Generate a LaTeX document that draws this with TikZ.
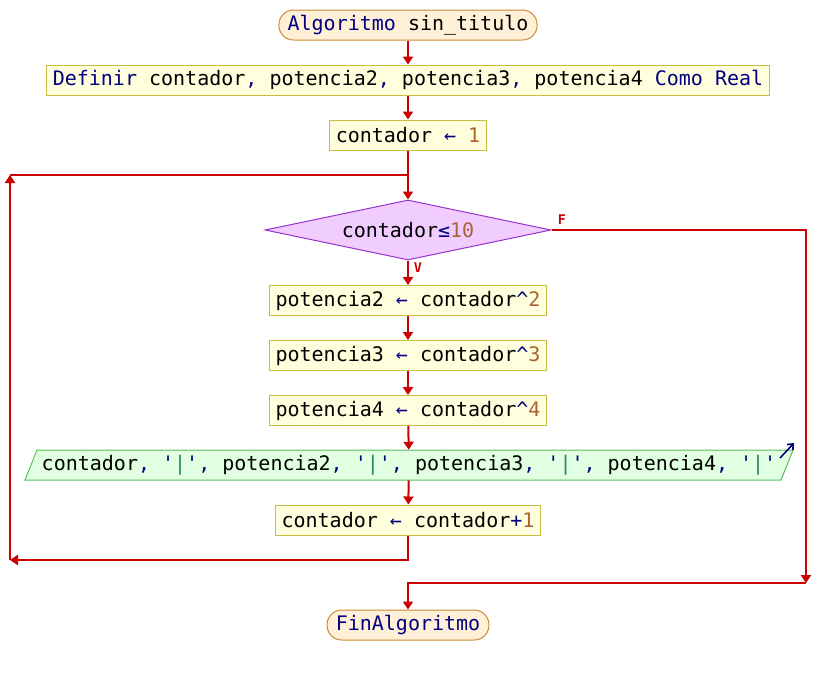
\documentclass[tikz,border=0pt]{standalone}
\usepackage{fontspec}
\newfontfamily\psfont{DejaVu Sans Mono}
\usetikzlibrary{shapes.geometric,arrows.meta}

\definecolor{flecha}{RGB}{204,0,0}
\definecolor{clave}{RGB}{0,0,128}
\definecolor{numero}{RGB}{170,100,50}
\definecolor{cadena}{RGB}{40,130,100}
\definecolor{fondoini}{RGB}{255,240,215}
\definecolor{bordeini}{RGB}{204,136,51}
\definecolor{fondoproc}{RGB}{255,255,221}
\definecolor{bordeproc}{RGB}{200,190,70}
\definecolor{fondodec}{RGB}{240,204,255}
\definecolor{bordedec}{RGB}{153,51,204}
\definecolor{fondosal}{RGB}{225,255,225}
\definecolor{bordesal}{RGB}{90,190,90}

\newcommand{\kw}[1]{\textcolor{clave}{#1}}
\newcommand{\cnum}[1]{\textcolor{numero}{#1}}
\newcommand{\cpipe}{\kw{'}\textcolor{cadena}{|}\kw{'}}

\tikzset{
  texto/.style={font=\psfont\fontsize{15}{18}\selectfont},
  flujo/.style={draw=flecha, line width=1.5pt, -{Triangle[length=6pt,width=7.5pt]}},
  linea/.style={draw=flecha, line width=1.5pt},
  extremo/.style={texto, draw=bordeini, fill=fondoini, line width=0.75pt, rounded corners=11pt, minimum height=22.5pt, inner xsep=6.5pt, inner ysep=0pt},
  proceso/.style={texto, draw=bordeproc, fill=fondoproc, line width=0.75pt, minimum height=22.5pt, inner xsep=4.5pt, inner ysep=0pt},
  decision/.style={texto, diamond, aspect=4.77, draw=bordedec, fill=fondodec, line width=0.75pt, minimum width=214.5pt, minimum height=45pt, inner sep=0pt},
  salidabox/.style={texto, minimum height=22.5pt, inner sep=0pt},
  rama/.style={font=\psfont\bfseries\fontsize{10}{12}\selectfont, text=flecha, inner sep=0pt},
}

\begin{document}
\begin{tikzpicture}[x=0.75pt,y=0.75pt,yscale=-1,xscale=1]
\useasboundingbox (0,0) rectangle (816,675);

% Shapes
\node[extremo] (inicio) at (408,25) {\kw{Algoritmo} sin\_titulo};
\node[proceso] (definir) at (408,80) {\kw{Definir} contador\kw{,} potencia2\kw{,} potencia3\kw{,} potencia4 \kw{Como} \kw{Real}};
\node[proceso] (asig1) at (408,135) {contador \kw{←} \cnum{1}};
\node[decision] (cond) at (408,230) {contador\kw{≤}\cnum{10}};
\node[proceso] (pot2) at (408,300.5) {potencia2 \kw{←} contador\kw{\textasciicircum}\cnum{2}};
\node[proceso] (pot3) at (408,355.5) {potencia3 \kw{←} contador\kw{\textasciicircum}\cnum{3}};
\node[proceso] (pot4) at (408,410.5) {potencia4 \kw{←} contador\kw{\textasciicircum}\cnum{4}};
%Shape: Parallelogram
\draw [draw=bordesal, fill=fondosal, line width=0.75pt] (37,450) -- (793,450) -- (781,480) -- (25,480) -- cycle;
\draw [draw=clave, line width=1.2pt, -{Straight Barb[length=3.5pt,width=6pt]}] (780,458) -- (794,443);
\node[salidabox] (salida) at (409,465) {contador\kw{,} \cpipe\kw{,} potencia2\kw{,} \cpipe\kw{,} potencia3\kw{,} \cpipe\kw{,} potencia4\kw{,} \cpipe};
\node[proceso] (incr) at (408,520) {contador \kw{←} contador\kw{+}\cnum{1}};
\node[extremo] (fin) at (408,625) {\kw{FinAlgoritmo}};

% Branch labels
\node[rama] (lblF) at (562,220) {F};
\node[rama] (lblV) at (418,268) {V};

\coordinate (retorno) at (10,560);
\coordinate (subida) at (10,175);
\coordinate (bajada) at (806,583);

% Connectors
\draw[flujo] (inicio) -- (definir);
\draw[flujo] (definir) -- (asig1);
\draw[flujo] (asig1) -- (cond);
\draw[flujo] (cond) -- (pot2);
\draw[flujo] (pot2) -- (pot3);
\draw[flujo] (pot3) -- (pot4);
\draw[flujo] (pot4) -- (salida);
\draw[flujo] (salida) -- (incr);
\draw[flujo] (incr.south) |- (retorno);
\draw[flujo] (retorno) -- (subida);
\draw[linea] (subida) -- (subida -| asig1.south);
\draw[flujo] (cond.east) -| (bajada);
\draw[flujo] (bajada) -| (fin.north);

\end{tikzpicture}
\end{document}
